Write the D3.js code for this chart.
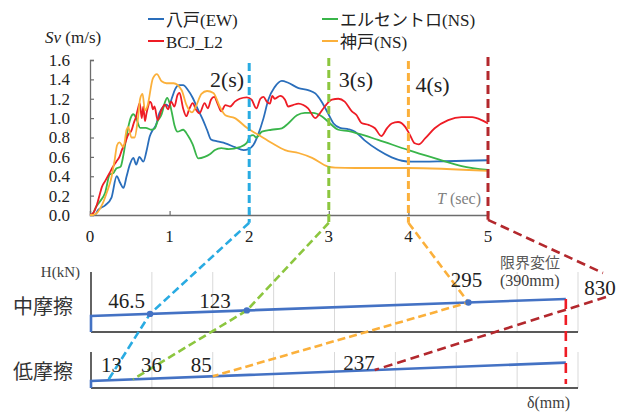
<!DOCTYPE html>
<html>
<head>
<meta charset="utf-8">
<script src="https://cdn.jsdelivr.net/npm/d3@7"></script>
<style>
  body { margin: 0; background: #fff; }
  svg text { font-family: "Liberation Serif", "Times New Roman", "DejaVu Serif", "Noto Sans CJK JP", serif; }
</style>
</head>
<body>
<div id="chart"></div>
<script>
// --- top chart: velocity response spectra (Sv vs T) ---
const seriesNames = ["八戸(EW)", "エルセントロ(NS)", "BCJ_L2", "神戸(NS)"];
const seriesColors = ["#2a6ebb", "#39b54a", "#ee1c25", "#fbb03b"];

const hachinoheT = [0,0.06,0.1,0.19,0.27,0.335,0.38,0.42,0.46,0.5,0.545,0.58,0.62,0.67,0.71,0.75,0.79,0.83,0.87,0.92,0.96,0.99,1.03,1.07,1.12,1.17,1.23,1.29,1.35,1.42,1.47,1.52,1.6,1.7,1.82,1.93,1.99,2.05,2.11,2.18,2.24,2.32,2.41,2.49,2.62,2.74,2.83,2.91,2.99,3.06,3.14,3.25,3.33,3.45,3.62,3.79,3.92,4.04,4.46,5.0];
const hachinoheV = [0,0,0.05,0.1,0.18,0.4,0.33,0.28,0.4,0.52,0.59,0.52,0.6,0.55,0.66,0.81,0.88,0.93,1.05,1.12,1.14,1.12,1.21,1.3,1.34,1.34,1.29,1.21,1.1,0.98,0.88,0.78,0.76,0.74,0.7,0.67,0.68,0.72,0.825,1.0,1.19,1.32,1.385,1.365,1.31,1.29,1.255,1.17,1.05,0.945,0.9,0.885,0.86,0.77,0.67,0.595,0.56,0.55,0.555,0.565];

const elcentroT = [0,0.02,0.08,0.125,0.19,0.25,0.29,0.33,0.385,0.42,0.46,0.51,0.545,0.58,0.63,0.7,0.77,0.81,0.85,0.9,0.94,0.97,1.0,1.03,1.06,1.1,1.17,1.23,1.29,1.36,1.44,1.51,1.57,1.65,1.74,1.88,1.97,2.01,2.05,2.09,2.16,2.28,2.41,2.49,2.6,2.7,2.8,2.91,2.99,3.12,3.25,3.37,3.62,4.0,4.38,4.67,5.0];
const elcentroV = [0,0,0.09,0.14,0.23,0.42,0.43,0.48,0.5,0.62,0.82,1.0,1.04,1.0,0.9,0.9,0.88,0.89,0.97,1.04,1.16,1.21,1.155,1.05,0.93,0.86,0.88,0.82,0.73,0.585,0.6,0.63,0.67,0.69,0.68,0.7,0.745,0.815,0.825,0.8,0.86,0.88,0.895,0.945,1.03,1.055,1.055,1.02,0.965,0.88,0.865,0.84,0.775,0.67,0.575,0.505,0.465];

const bcjT = [0,0.04,0.08,0.125,0.15,0.19,0.25,0.29,0.33,0.37,0.4,0.44,0.48,0.52,0.55,0.58,0.6,0.625,0.65,0.67,0.69,0.71,0.73,0.75,0.77,0.79,0.81,0.85,0.9,0.94,0.98,1.02,1.06,1.1,1.125,1.17,1.21,1.25,1.29,1.33,1.375,1.44,1.48,1.52,1.56,1.61,1.65,1.7,1.76,1.82,1.88,1.97,2.03,2.09,2.14,2.18,2.22,2.26,2.29,2.32,2.39,2.45,2.49,2.55,2.62,2.68,2.74,2.83,2.87,2.95,3.04,3.12,3.2,3.29,3.35,3.41,3.5,3.58,3.66,3.73,3.79,3.87,3.96,4.02,4.08,4.13,4.21,4.33,4.5,4.67,4.8,4.92,5.0];
const bcjV = [0,0.02,0.09,0.22,0.29,0.35,0.44,0.5,0.55,0.6,0.67,0.74,0.83,0.87,0.95,1.02,1.09,1.155,1.0,1.12,0.97,1.05,1.12,1.17,1.155,1.09,1.12,0.98,1.09,1.14,1.09,1.17,1.12,1.24,1.26,1.1,1.02,1.1,1.155,1.09,1.05,1.155,1.1,1.19,1.22,1.135,1.07,1.135,1.12,1.17,1.2,1.215,1.19,1.1,1.2,1.22,1.17,1.15,1.23,1.2,1.23,1.19,1.12,1.135,1.15,1.135,1.1,1.0,1.03,1.12,1.19,1.2,1.17,1.07,1.03,0.95,0.93,0.895,0.815,0.895,0.945,0.96,0.91,0.825,0.74,0.73,0.79,0.895,0.98,1.01,1.01,0.98,0.945];

const kobeT = [0,0.04,0.16,0.21,0.27,0.31,0.34,0.37,0.42,0.46,0.48,0.52,0.56,0.6,0.63,0.66,0.69,0.72,0.79,0.84,0.9,0.96,1.05,1.15,1.21,1.28,1.33,1.4,1.47,1.55,1.63,1.7,1.82,1.97,2.11,2.29,2.45,2.62,2.79,2.99,3.08,3.33,4.0,5.0];
const kobeV = [0,0,0.12,0.23,0.39,0.57,0.72,0.75,0.7,0.88,0.91,0.8,0.8,0.98,1.2,1.25,1.08,1.12,1.41,1.455,1.38,1.36,1.36,1.29,1.14,1.06,1.12,1.25,1.28,1.26,1.12,1.03,1.0,0.9,0.83,0.74,0.67,0.64,0.59,0.5,0.49,0.485,0.485,0.455];

const svTicks = [0, 0.2, 0.4, 0.6, 0.8, 1.0, 1.2, 1.4, 1.6];
const periodTicks = [0, 1, 2, 3, 4, 5];

// selected periods with their dashed markers
const markPeriods = [2, 3, 4, 5];
const markLabels = ["2(s)", "3(s)", "4(s)", ""];
const markTops = [1.57, 1.62, 1.59, 1.63];
const markColors = ["#29abe2", "#8cc63f", "#fbb03b", "#b3282d"];

// --- bottom chart: force-displacement of isolation (中摩擦 / 低摩擦) ---
const deltaGrid = [0, 50, 100, 150, 200, 250, 300, 350, 400];
const midCurve = [[0, 0], [0, 80], [390, 165]];   // [δ(mm), H]
const lowCurve = [[0, 0], [0, 35], [390, 127]];
const midPoints = [48.5, 128, 310];               // δ of response for 2,3,4 s
const midLabels = ["46.5", "123", "295"];
const lowPoints = [14, 34.5, 100, 233];           // δ of response for 2,3,4,5 s
const lowLabels = ["13", "36", "85", "237"];
const limitDelta = 390;
const offScaleLabel = "830";

const W = 625, H = 412;
const svg = d3.select("#chart").append("svg").attr("width", W).attr("height", H);

const x = d3.scaleLinear().domain([0, 5]).range([90, 488]);
const y = d3.scaleLinear().domain([0, 1.6]).range([215, 60]);

const axisColor = "#6d6d6d";

// y axis
const yAxis = svg.append("g").attr("transform", `translate(${x(0)},0)`)
    .call(d3.axisRight(y).tickValues(svTicks).tickSize(4).tickFormat(""));
yAxis.select(".domain").attr("stroke", axisColor).attr("stroke-width", 1.3);
yAxis.selectAll(".tick line").attr("stroke", axisColor).attr("stroke-width", 1.2);
svg.append("g").selectAll("text").data(svTicks).join("text")
    .attr("x", 70).attr("y", d => y(d)).attr("dy", "0.35em")
    .attr("text-anchor", "end").attr("font-size", 17).attr("fill", "#222")
    .text(d3.format(".1f"));

// x axis
const xAxis = svg.append("g").attr("transform", `translate(0,${y(0)})`)
    .call(d3.axisTop(x).tickValues(periodTicks.slice(1)).tickSize(4).tickFormat(""));
xAxis.select(".domain").attr("stroke", axisColor).attr("stroke-width", 1.5);
xAxis.selectAll(".tick line").attr("stroke", axisColor).attr("stroke-width", 1.2);
svg.append("g").selectAll("text").data(periodTicks).join("text")
    .attr("x", d => x(d)).attr("y", 242)
    .attr("text-anchor", "middle").attr("font-size", 17).attr("fill", "#222")
    .text(d => d);

// axis titles
const svTitle = svg.append("text").attr("x", 45).attr("y", 43).attr("font-size", 17).attr("fill", "#222");
svTitle.append("tspan").attr("font-style", "italic").text("Sv");
svTitle.append("tspan").text(" (m/s)");
const tTitle = svg.append("text").attr("x", 437).attr("y", 204).attr("font-size", 16).attr("fill", "#7f7f7f");
tTitle.append("tspan").attr("font-style", "italic").text("T");
tTitle.append("tspan").text(" (sec)");

// spectra lines
const seriesData = [
  d3.zip(hachinoheT, hachinoheV),
  d3.zip(elcentroT, elcentroV),
  d3.zip(bcjT, bcjV),
  d3.zip(kobeT, kobeV)
];
const line = d3.line().x(d => x(d[0])).y(d => y(d[1])).curve(d3.curveMonotoneX);
svg.append("g").selectAll("path").data(seriesData).join("path")
    .attr("d", line)
    .attr("fill", "none")
    .attr("stroke", (d, i) => seriesColors[i])
    .attr("stroke-width", 1.8)
    .attr("stroke-linejoin", "round");

// legend (two columns, row-wise order)
const legendPos = [[148, 19], [322, 19], [148, 41], [322, 41]];
const legend = svg.append("g").selectAll("g").data(seriesNames).join("g")
    .attr("transform", (d, i) => `translate(${legendPos[i][0]},${legendPos[i][1]})`);
legend.append("line").attr("x1", 0).attr("x2", 16).attr("y1", 0).attr("y2", 0)
    .attr("stroke", (d, i) => seriesColors[i]).attr("stroke-width", 2);
legend.append("text").attr("x", 18).attr("y", 6.5).attr("font-size", 17).attr("fill", "#222")
    .text(d => d);

// --- bottom chart scales ---
const xd = d3.scaleLinear().domain([0, 400]).range([91, 578]);
const yMid = d3.scaleLinear().domain([0, 300]).range([332, 272]);
const yLow = d3.scaleLinear().domain([0, 180]).range([388, 352]);

function hAt(curve, d) {
  const a = curve[1], b = curve[2];
  return a[1] + (b[1] - a[1]) * (d - a[0]) / (b[0] - a[0]);
}

const panels = [
  { ys: yMid, curve: midCurve, name: "中摩擦", labelY: 314 },
  { ys: yLow, curve: lowCurve, name: "低摩擦", labelY: 379 }
];

panels.forEach(p => {
  const g = svg.append("g");
  const [y0, y1] = p.ys.range();
  g.selectAll("line.grid").data(deltaGrid.slice(1)).join("line")
      .attr("class", "grid")
      .attr("x1", d => xd(d)).attr("x2", d => xd(d))
      .attr("y1", y0).attr("y2", y1)
      .attr("stroke", "#d9d9d9").attr("stroke-width", 1);
  g.append("line").attr("x1", xd(0)).attr("x2", xd(0)).attr("y1", y0).attr("y2", y1)
      .attr("stroke", "#222").attr("stroke-width", 1.4);
  g.append("line").attr("x1", xd(0)).attr("x2", xd(400)).attr("y1", y0).attr("y2", y0)
      .attr("stroke", "#222").attr("stroke-width", 1.4);
  g.append("path")
      .attr("d", d3.line().x(d => xd(d[0])).y(d => p.ys(d[1]))(p.curve))
      .attr("fill", "none").attr("stroke", "#4472c4").attr("stroke-width", 2.6);
  g.append("text").attr("x", 73).attr("y", p.labelY)
      .attr("text-anchor", "end").attr("font-size", 20).attr("fill", "#333")
      .text(p.name);
});

// limit displacement
svg.append("line")
    .attr("x1", xd(limitDelta)).attr("x2", xd(limitDelta))
    .attr("y1", yMid(hAt(midCurve, limitDelta))).attr("y2", yLow(0) - 4)
    .attr("stroke", "#ee1c25").attr("stroke-width", 2.6).attr("stroke-dasharray", "10,6");

// connectors from spectra to displacement
const startV = -0.08;
const connectors = [0, 1, 2].map(i => [
  [x(markPeriods[i]), y(startV)],
  [xd(midPoints[i]), yMid(hAt(midCurve, midPoints[i]))],
  [xd(lowPoints[i]), yLow(hAt(lowCurve, lowPoints[i]))]
]);
// 5 s response (830 mm) is beyond the axis: line broken around its label
connectors.push([[x(5), y(-0.05)], [xd(420.5), yMid(295)]]);
connectors.push([[xd(423), yMid(175)], [xd(lowPoints[3]), yLow(hAt(lowCurve, lowPoints[3]))]]);
const connColors = [markColors[0], markColors[1], markColors[2], markColors[3], markColors[3]];

svg.append("g").selectAll("path").data(connectors).join("path")
    .attr("d", d3.line())
    .attr("fill", "none")
    .attr("stroke", (d, i) => connColors[i])
    .attr("stroke-width", 2.6)
    .attr("stroke-dasharray", (d, i) => i >= 3 ? "9,5" : "8,4");

// vertical dashed period markers
svg.append("g").selectAll("line").data(markPeriods).join("line")
    .attr("x1", d => x(d)).attr("x2", d => x(d))
    .attr("y1", (d, i) => y(markTops[i])).attr("y2", (d, i) => y(i === 3 ? -0.05 : startV))
    .attr("stroke", (d, i) => markColors[i])
    .attr("stroke-width", 3)
    .attr("stroke-dasharray", (d, i) => i === 3 ? "9,5" : "8,4");

const markOffsets = [[-5, 87, "end"], [10, 87, "start"], [7, 92, "start"]];
svg.append("g").selectAll("text").data(markLabels.slice(0, 3)).join("text")
    .attr("x", (d, i) => x(markPeriods[i]) + markOffsets[i][0])
    .attr("y", (d, i) => markOffsets[i][1])
    .attr("text-anchor", (d, i) => markOffsets[i][2])
    .attr("font-size", 22).attr("fill", "#222")
    .text(d => d);

// markers on 中摩擦 curve
svg.append("g").selectAll("circle").data(midPoints).join("circle")
    .attr("cx", d => xd(d)).attr("cy", d => yMid(hAt(midCurve, d)))
    .attr("r", 3.2).attr("fill", "#4472c4");

// value labels
const midLabelPos = [[-5, 308, "end"], [-16, 308, "end"], [-2, 287, "middle"]];
svg.append("g").selectAll("text").data(midLabels).join("text")
    .attr("x", (d, i) => xd(midPoints[i]) + midLabelPos[i][0])
    .attr("y", (d, i) => midLabelPos[i][1])
    .attr("text-anchor", (d, i) => midLabelPos[i][2])
    .attr("font-size", 21).attr("fill", "#222").text(d => d);
const lowLabelPos = [[-7, 372, "start"], [8, 372, "start"], [-1, 372, "end"], [0, 370, "end"]];
svg.append("g").selectAll("text").data(lowLabels).join("text")
    .attr("x", (d, i) => xd(lowPoints[i]) + lowLabelPos[i][0])
    .attr("y", (d, i) => lowLabelPos[i][1])
    .attr("text-anchor", (d, i) => lowLabelPos[i][2])
    .attr("font-size", 21).attr("fill", "#222").text(d => d);
svg.append("text").attr("x", xd(418)).attr("y", 295).attr("text-anchor", "middle")
    .attr("font-size", 21).attr("fill", "#222").text(offScaleLabel);

// bottom chart titles
svg.append("text").attr("x", 80).attr("y", 277).attr("text-anchor", "end")
    .attr("font-size", 15).attr("fill", "#404040").text("H(kN)");
svg.append("text").attr("x", 500).attr("y", 268)
    .attr("font-size", 15).attr("fill", "#595959").text("限界変位");
svg.append("text").attr("x", 500).attr("y", 286)
    .attr("font-size", 16).attr("fill", "#404040").text(`(${limitDelta}mm)`);
svg.append("text").attr("x", 570).attr("y", 408).attr("text-anchor", "end")
    .attr("font-size", 16).attr("fill", "#404040").text("δ(mm)");
</script>
</body>
</html>
